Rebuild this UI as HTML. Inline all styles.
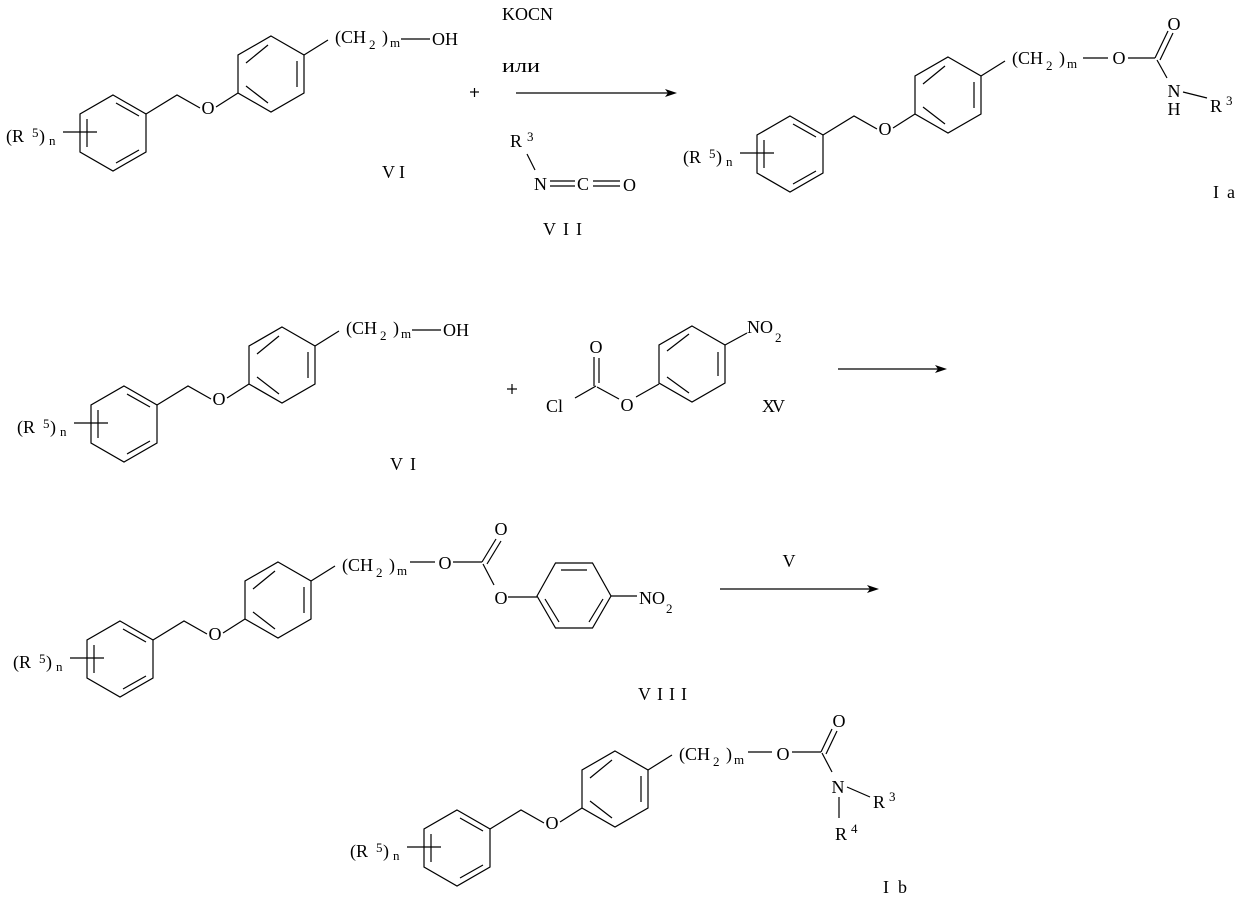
<!DOCTYPE html>
<html><head><meta charset="utf-8"><style>
html,body{margin:0;padding:0;background:#fff;}
svg{display:block;}
text{font-family:"Liberation Serif","DejaVu Serif",serif;font-size:18px;fill:#000;}
.s{font-size:13px;}
.c{text-anchor:middle;}
line,path,polyline{stroke:#000;stroke-width:1.2;fill:none;}
.ah{fill:#000;stroke:none;}
</style></head><body>
<svg width="1246" height="905" viewBox="0 0 1246 905" xmlns="http://www.w3.org/2000/svg">

<!-- Instance 1: VI top -->
<g transform="translate(113,133)">
<path d="M0,-38 L33,-19 L33,19 L0,38 L-33,19 L-33,-19 Z"/>
<line x1="3" y1="-30" x2="26" y2="-17"/><line x1="26" y1="17" x2="3" y2="30"/><line x1="-26" y1="-14" x2="-26" y2="14"/>
<line x1="-50" y1="-1" x2="-16" y2="-1"/>
<text x="-107" y="9">(R</text><text class="s" x="-81" y="4">5</text><text x="-74" y="9">)</text><text class="s" x="-64" y="12">n</text>
<polyline points="33,-19 64,-38 87,-25"/>
<text class="c" x="95" y="-19">O</text>
<line x1="103" y1="-26" x2="125" y2="-40"/>
<path d="M158,-97 L191,-78 L191,-40 L158,-21 L125,-40 L125,-78 Z"/>
<line x1="133" y1="-70" x2="155" y2="-88"/><line x1="184" y1="-72" x2="184" y2="-46"/><line x1="155" y1="-30" x2="133" y2="-47"/>
<line x1="191" y1="-78" x2="215" y2="-93"/>
<text x="222" y="-90">(CH</text><text class="s" x="256" y="-84">2</text><text x="269" y="-90">)</text><text class="s" x="277" y="-86">m</text>
<line x1="288" y1="-94" x2="317" y2="-94"/>
<text x="319" y="-88">OH</text>
<text x="269" y="45" textLength="23" lengthAdjust="spacing">VI</text>
</g>

<!-- plus -->
<line x1="470" y1="92" x2="479" y2="92"/><line x1="474.5" y1="88" x2="474.5" y2="97"/>
<text x="502" y="20" textLength="51" lengthAdjust="spacingAndGlyphs">KOCN</text>
<text x="502" y="72" style="font-size:19px" textLength="38" lengthAdjust="spacingAndGlyphs">или</text>
<line x1="516" y1="93" x2="670" y2="93"/><polygon class="ah" points="677,93 665,89 668,93 665,97"/>
<!-- VII -->
<text x="510" y="147">R</text><text class="s" x="527" y="141">3</text>
<line x1="527" y1="154" x2="535" y2="170"/>
<text x="534" y="190">N</text>
<line x1="550" y1="181" x2="575" y2="181"/><line x1="550" y1="186" x2="575" y2="186"/>
<text x="577" y="190">C</text>
<line x1="593" y1="181" x2="620" y2="181"/><line x1="593" y1="186" x2="620" y2="186"/>
<text x="623" y="191">O</text>
<text x="543" y="235" textLength="39" lengthAdjust="spacing">VII</text>

<!-- Instance 2: Ia -->
<g transform="translate(790,154)">
<path d="M0,-38 L33,-19 L33,19 L0,38 L-33,19 L-33,-19 Z"/>
<line x1="3" y1="-30" x2="26" y2="-17"/><line x1="26" y1="17" x2="3" y2="30"/><line x1="-26" y1="-14" x2="-26" y2="14"/>
<line x1="-50" y1="-1" x2="-16" y2="-1"/>
<text x="-107" y="9">(R</text><text class="s" x="-81" y="4">5</text><text x="-74" y="9">)</text><text class="s" x="-64" y="12">n</text>
<polyline points="33,-19 64,-38 87,-25"/>
<text class="c" x="95" y="-19">O</text>
<line x1="103" y1="-26" x2="125" y2="-40"/>
<path d="M158,-97 L191,-78 L191,-40 L158,-21 L125,-40 L125,-78 Z"/>
<line x1="133" y1="-70" x2="155" y2="-88"/><line x1="184" y1="-72" x2="184" y2="-46"/><line x1="155" y1="-30" x2="133" y2="-47"/>
<line x1="191" y1="-78" x2="215" y2="-93"/>
<text x="222" y="-90">(CH</text><text class="s" x="256" y="-84">2</text><text x="269" y="-90">)</text><text class="s" x="277" y="-86">m</text>
</g>
<line x1="1083" y1="58" x2="1108" y2="58"/>
<text class="c" x="1119" y="64">O</text>
<line x1="1128" y1="58" x2="1155" y2="58"/>
<line x1="1155" y1="58" x2="1168" y2="31"/><line x1="1160" y1="60" x2="1173" y2="33"/>
<text class="c" x="1174" y="30">O</text>
<line x1="1157" y1="60" x2="1167" y2="78"/>
<text class="c" x="1174" y="97">N</text>
<text class="c" x="1174" y="115">H</text>
<line x1="1183" y1="92" x2="1207" y2="98"/>
<text x="1210" y="112">R</text><text class="s" x="1226" y="105">3</text>
<text x="1213" y="198" textLength="22" lengthAdjust="spacing">Ia</text>

<!-- Instance 3: VI second -->
<g transform="translate(124,424)">
<path d="M0,-38 L33,-19 L33,19 L0,38 L-33,19 L-33,-19 Z"/>
<line x1="3" y1="-30" x2="26" y2="-17"/><line x1="26" y1="17" x2="3" y2="30"/><line x1="-26" y1="-14" x2="-26" y2="14"/>
<line x1="-50" y1="-1" x2="-16" y2="-1"/>
<text x="-107" y="9">(R</text><text class="s" x="-81" y="4">5</text><text x="-74" y="9">)</text><text class="s" x="-64" y="12">n</text>
<polyline points="33,-19 64,-38 87,-25"/>
<text class="c" x="95" y="-19">O</text>
<line x1="103" y1="-26" x2="125" y2="-40"/>
<path d="M158,-97 L191,-78 L191,-40 L158,-21 L125,-40 L125,-78 Z"/>
<line x1="133" y1="-70" x2="155" y2="-88"/><line x1="184" y1="-72" x2="184" y2="-46"/><line x1="155" y1="-30" x2="133" y2="-47"/>
<line x1="191" y1="-78" x2="215" y2="-93"/>
<text x="222" y="-90">(CH</text><text class="s" x="256" y="-84">2</text><text x="269" y="-90">)</text><text class="s" x="277" y="-86">m</text>
<line x1="288" y1="-94" x2="317" y2="-94"/>
<text x="319" y="-88">OH</text>
<text x="266" y="46" textLength="26" lengthAdjust="spacing">VI</text>
</g>

<!-- XV -->
<line x1="507" y1="389" x2="517" y2="389"/><line x1="512" y1="384" x2="512" y2="394"/>
<text x="546" y="412">Cl</text>
<line x1="575" y1="398" x2="596" y2="386"/>
<line x1="594" y1="386" x2="594" y2="357"/><line x1="599" y1="383" x2="599" y2="358"/>
<text class="c" x="596" y="353">O</text>
<line x1="597" y1="387" x2="619" y2="399"/>
<text class="c" x="627" y="411">O</text>
<line x1="636" y1="397" x2="659" y2="384"/>
<path d="M692,326 L725,345 L725,383 L692,402 L659,383 L659,345 Z"/>
<line x1="667" y1="351" x2="689" y2="334"/><line x1="718" y1="352" x2="718" y2="376"/><line x1="689" y1="393" x2="667" y2="377"/>
<line x1="725" y1="345" x2="747" y2="333"/>
<text x="747" y="333">NO</text><text class="s" x="775" y="342">2</text>
<text x="762" y="412" textLength="23" lengthAdjust="spacing">XV</text>
<line x1="838" y1="369" x2="940" y2="369"/><polygon class="ah" points="947,369 935,365 938,369 935,373"/>

<!-- Instance 4: VIII -->
<g transform="translate(120,659)">
<path d="M0,-38 L33,-19 L33,19 L0,38 L-33,19 L-33,-19 Z"/>
<line x1="3" y1="-30" x2="26" y2="-17"/><line x1="26" y1="17" x2="3" y2="30"/><line x1="-26" y1="-14" x2="-26" y2="14"/>
<line x1="-50" y1="-1" x2="-16" y2="-1"/>
<text x="-107" y="9">(R</text><text class="s" x="-81" y="4">5</text><text x="-74" y="9">)</text><text class="s" x="-64" y="12">n</text>
<polyline points="33,-19 64,-38 87,-25"/>
<text class="c" x="95" y="-19">O</text>
<line x1="103" y1="-26" x2="125" y2="-40"/>
<path d="M158,-97 L191,-78 L191,-40 L158,-21 L125,-40 L125,-78 Z"/>
<line x1="133" y1="-70" x2="155" y2="-88"/><line x1="184" y1="-72" x2="184" y2="-46"/><line x1="155" y1="-30" x2="133" y2="-47"/>
<line x1="191" y1="-78" x2="215" y2="-93"/>
<text x="222" y="-88">(CH</text><text class="s" x="256" y="-82">2</text><text x="269" y="-88">)</text><text class="s" x="277" y="-84">m</text>
</g>
<line x1="410" y1="562" x2="435" y2="562"/>
<text class="c" x="445" y="569">O</text>
<line x1="453" y1="562" x2="482" y2="562"/>
<line x1="482" y1="562" x2="496" y2="539"/><line x1="487" y1="564" x2="501" y2="541"/>
<text class="c" x="501" y="535">O</text>
<line x1="483" y1="564" x2="494" y2="585"/>
<text class="c" x="501" y="604">O</text>
<line x1="508" y1="597" x2="537" y2="597"/>
<path d="M537,596 L555.5,563 L592.5,563 L611,596 L592.5,628 L555.5,628 Z"/>
<line x1="561" y1="570" x2="587" y2="570"/><line x1="545" y1="599" x2="559" y2="622"/><line x1="603" y1="599" x2="589" y2="622"/>
<line x1="611" y1="596" x2="637" y2="596"/>
<text x="639" y="604">NO</text><text class="s" x="666" y="613">2</text>
<text x="638" y="700" textLength="49" lengthAdjust="spacing">VIII</text>
<text class="c" x="789" y="567">V</text>
<line x1="720" y1="589" x2="871" y2="589"/><polygon class="ah" points="879,589 867,585 870,589 867,593"/>

<!-- Instance 5: Ib -->
<g transform="translate(457,848)">
<path d="M0,-38 L33,-19 L33,19 L0,38 L-33,19 L-33,-19 Z"/>
<line x1="3" y1="-30" x2="26" y2="-17"/><line x1="26" y1="17" x2="3" y2="30"/><line x1="-26" y1="-14" x2="-26" y2="14"/>
<line x1="-50" y1="-1" x2="-16" y2="-1"/>
<text x="-107" y="9">(R</text><text class="s" x="-81" y="4">5</text><text x="-74" y="9">)</text><text class="s" x="-64" y="12">n</text>
<polyline points="33,-19 64,-38 87,-25"/>
<text class="c" x="95" y="-19">O</text>
<line x1="103" y1="-26" x2="125" y2="-40"/>
<path d="M158,-97 L191,-78 L191,-40 L158,-21 L125,-40 L125,-78 Z"/>
<line x1="133" y1="-70" x2="155" y2="-88"/><line x1="184" y1="-72" x2="184" y2="-46"/><line x1="155" y1="-30" x2="133" y2="-47"/>
<line x1="191" y1="-78" x2="215" y2="-93"/>
<text x="222" y="-88">(CH</text><text class="s" x="256" y="-82">2</text><text x="269" y="-88">)</text><text class="s" x="277" y="-84">m</text>
</g>
<line x1="748" y1="752" x2="772" y2="752"/>
<text class="c" x="783" y="760">O</text>
<line x1="792" y1="752" x2="821" y2="752"/>
<line x1="821" y1="752" x2="832" y2="729"/><line x1="826" y1="754" x2="837" y2="731"/>
<text class="c" x="839" y="727">O</text>
<line x1="822" y1="753" x2="832" y2="772"/>
<text class="c" x="838" y="793">N</text>
<line x1="847" y1="787" x2="870" y2="797"/>
<text x="873" y="808">R</text><text class="s" x="889" y="801">3</text>
<line x1="839" y1="797" x2="839" y2="818"/>
<text x="835" y="840">R</text><text class="s" x="851" y="833">4</text>
<text x="883" y="893" textLength="24" lengthAdjust="spacing">Ib</text>
</svg>
</body></html>
